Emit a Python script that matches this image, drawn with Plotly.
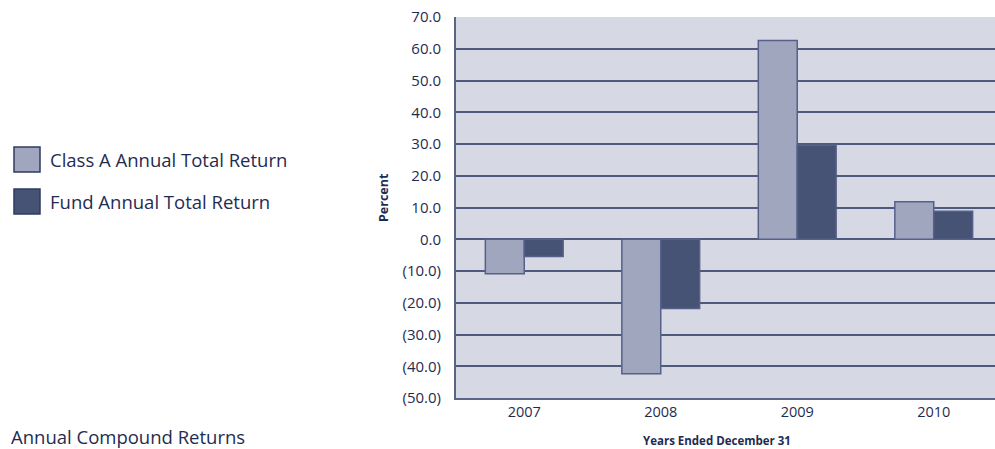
import plotly.graph_objects as go

years = ["2007", "2008", "2009", "2010"]
class_a = [-10.9, -42.4, 62.6, 11.8]
fund = [-5.4, -21.8, 29.6, 8.8]
series_names = ["Class A Annual Total Return", "Fund Annual Total Return"]
y_tickvals = [70, 60, 50, 40, 30, 20, 10, 0, -10, -20, -30, -40, -50]
y_ticktext = ["70.0", "60.0", "50.0", "40.0", "30.0", "20.0", "10.0", "0.0",
              "(10.0)", "(20.0)", "(30.0)", "(40.0)", "(50.0)"]

TXT = "#1f2c52"
C_A = "#a1a6bf"
C_F = "#475375"
EDGE = "#56608a"
FONT = "Open Sans"

fig = go.Figure()
fig.add_trace(go.Bar(x=years, y=class_a, name=series_names[0], marker=dict(color=C_A, line=dict(color=EDGE, width=1.5))))
fig.add_trace(go.Bar(x=years, y=fund, name=series_names[1], marker=dict(color=C_F, line=dict(color=EDGE, width=1.5))))

W, H = 995, 449
L, T, B = 456, 17, 51
fig.update_layout(
    width=W, height=H,
    margin=dict(l=L, r=0, t=T, b=B),
    paper_bgcolor="white", plot_bgcolor="#d6d8e3",
    barmode="group", bargap=0.43, bargroupgap=0,
    showlegend=False,
    font=dict(family=FONT, color=TXT, size=15),
    xaxis=dict(type="category", range=[-0.5, 3.449], showgrid=False, showline=True,
               linecolor="#5a6487", linewidth=2, ticks="", tickfont=dict(size=14.5, color=TXT),
               fixedrange=True),
    yaxis=dict(range=[-50, 70], tickvals=y_tickvals, ticktext=y_ticktext, showgrid=True,
               gridcolor="#4e5a7c", gridwidth=2, zeroline=True, zerolinecolor="#4e5a7c",
               zerolinewidth=2, showline=True, linecolor="#5a6487", linewidth=2, ticks="",
               ticklabelstandoff=10, tickfont=dict(size=15, color=TXT)),
)

def px2paper_x(px):
    return (px - L) / (W - L)

def px2paper_y(py):
    return (H - B - py) / (H - T - B)

# legend
for i, (name, col) in enumerate(zip(series_names, [C_A, C_F])):
    y0 = 147 + i * 42
    fig.add_shape(type="rect", xref="paper", yref="paper",
                  x0=px2paper_x(14), x1=px2paper_x(40), y0=px2paper_y(y0 + 25), y1=px2paper_y(y0),
                  fillcolor=col, line=dict(color="#2f3b62", width=1.5))
    fig.add_annotation(xref="paper", yref="paper", x=px2paper_x(48), y=px2paper_y(y0 + 12.5),
                       text=name, showarrow=False, xanchor="left", yanchor="middle",
                       font=dict(size=18.5, color=TXT, family=FONT))

fig.add_annotation(xref="paper", yref="paper", x=px2paper_x(383), y=px2paper_y(198),
                   text="<b>Percent</b>", textangle=-90, showarrow=False,
                   xanchor="center", yanchor="middle", font=dict(size=12.5, color=TXT, family=FONT))
fig.add_annotation(xref="paper", yref="paper", x=px2paper_x(717), y=px2paper_y(440),
                   text="<b>Years Ended December 31</b>", showarrow=False,
                   xanchor="center", yanchor="middle", font=dict(size=11.5, color=TXT, family=FONT))
fig.add_annotation(xref="paper", yref="paper", x=px2paper_x(9), y=px2paper_y(436),
                   text="Annual Compound Returns", showarrow=False,
                   xanchor="left", yanchor="middle", font=dict(size=18.5, color=TXT, family=FONT))

fig.write_html("out.html", config={"displayModeBar": False},
               post_script="document.body.style.margin='0';document.body.style.overflow='hidden';")
